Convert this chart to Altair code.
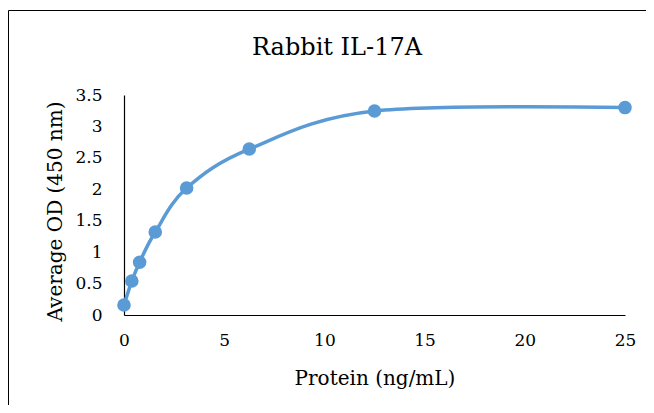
import altair as alt
import pandas as pd

protein = [0, 0.39, 0.78, 1.56, 3.125, 6.25, 12.5, 25]
od = [0.16, 0.54, 0.84, 1.32, 2.02, 2.64, 3.245, 3.30]
x_ticks = [0, 5, 10, 15, 20, 25]
y_ticks = [0, 0.5, 1, 1.5, 2, 2.5, 3, 3.5]
chart_title = "Rabbit IL-17A"

df = pd.DataFrame({"protein": protein, "od": od})

FONT = "DejaVu Serif"
BLUE = "#5B9BD5"

x_enc = alt.X(
    "protein:Q",
    scale=alt.Scale(domain=[0, 25], nice=False, zero=False),
    axis=alt.Axis(
        values=x_ticks, title="Protein (ng/mL)", grid=False, ticks=False,
        domainColor="black", domainWidth=1.2, labelColor="black",
        labelFont=FONT, labelFontSize=17, labelPadding=17,
        labelFlush=False, labelOverlap=False,
        titleFont=FONT, titleFontSize=20, titleFontWeight="normal", titleColor="black",
        titleY=69, titleBaseline="alphabetic",
    ),
)
y_enc = alt.Y(
    "od:Q",
    scale=alt.Scale(domain=[0, 3.5], nice=False),
    axis=alt.Axis(
        values=y_ticks, format="~g", title="Average OD (450 nm)", grid=False, ticks=False,
        domainColor="black", domainWidth=1.2, labelColor="black",
        labelFont=FONT, labelFontSize=17, labelPadding=22,
        labelFlush=False, labelOverlap=False,
        titleFont=FONT, titleFontSize=20, titleFontWeight="normal", titleColor="black",
        titleX=-69, titleY=116, titleAngle=-90, titleBaseline="middle", titleAlign="center",
    ),
)

line = alt.Chart(df).mark_line(
    interpolate="cardinal", color=BLUE, strokeWidth=3.5, strokeCap="round"
).encode(x=x_enc, y=y_enc)

pts = alt.Chart(df).mark_circle(color=BLUE, size=185, opacity=1).encode(
    x=x_enc, y=y_enc
)

border = alt.Chart(alt.Data(values=[{}])).mark_rect(
    filled=False, stroke="black", strokeWidth=1
).encode(
    x=alt.value(-115.5), y=alt.value(-84.5), x2=alt.value(700), y2=alt.value(500)
)

title = alt.Chart(alt.Data(values=[{"t": chart_title}])).mark_text(
    font=FONT, fontSize=24, color="black", align="center", baseline="alphabetic"
).encode(x=alt.value(213), y=alt.value(-40), text="t:N")

chart = alt.layer(border, line, pts, title).properties(
    width=501,
    height=220,
    autosize=alt.AutoSizeParams(type="none"),
    padding={"left": 116, "top": 87, "right": 21, "bottom": 90},
    background="white",
).configure_view(stroke=None)

chart.save("out.html", embed_options={"renderer": "svg", "actions": False})
